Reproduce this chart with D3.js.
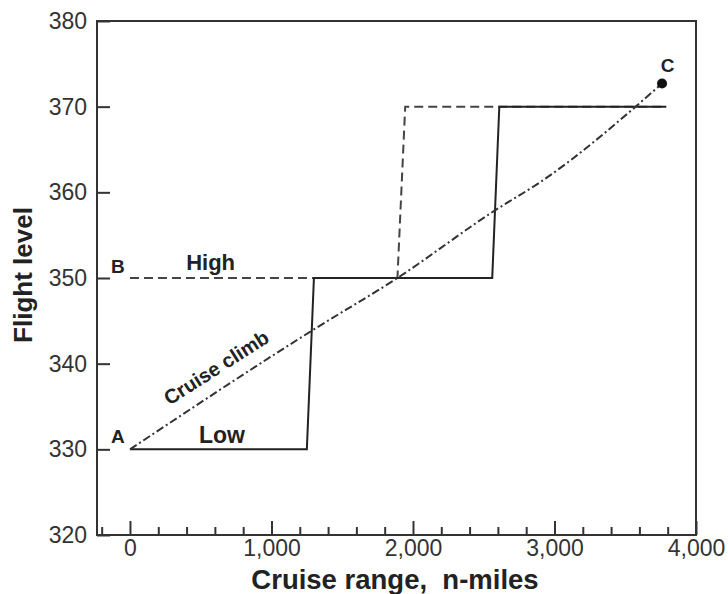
<!DOCTYPE html>
<html>
<head>
<meta charset="utf-8">
<script src="https://cdn.jsdelivr.net/npm/d3@7/dist/d3.min.js"></script>
<style>
  html, body { margin: 0; padding: 0; background: #fff; }
  svg { display: block; font-family: "Liberation Sans", Arial, Helvetica, sans-serif; }
</style>
</head>
<body>
<svg id="chart" width="728" height="594"></svg>
<script>
// ---- data ----
const yTicks = [320, 330, 340, 350, 360, 370, 380];
const xMajorTicks = [0, 1000, 2000, 3000, 4000];
const xMinorTicks = [-200, 200, 400, 600, 800, 1200, 1400, 1600, 1800, 2200, 2400, 2600, 2800, 3200, 3400, 3600, 3800];

const lowRange = [0, 1250, 1300, 2560, 2610, 3790];
const lowLevel = [330, 330, 350, 350, 370, 370];

const highRange = [0, 1890, 1945, 3790];
const highLevel = [350, 350, 370, 370];

const climbRange = [0, 1290, 1890, 2580, 2900, 3760];
const climbLevel = [330, 343.9, 350, 357.9, 361.2, 372.7];

const pointC = {range: 3760, level: 372.7};

// ---- layout ----
const W = 728, H = 594;
const m = {left: 97, right: 32, top: 21, bottom: 59};
const svg = d3.select("#chart");

const x = d3.scaleLinear().domain([-233, 4000]).range([m.left, W - m.right]);
const y = d3.scaleLinear().domain([320, 380]).range([H - m.bottom, m.top]);

const ink = "#222";

// axes (ticks inward)
const xMinor = svg.append("g").attr("transform", `translate(0,${H - m.bottom})`)
  .call(d3.axisBottom(x).tickValues(xMinorTicks).tickSize(-8).tickFormat(""));
const xMajor = svg.append("g").attr("transform", `translate(0,${H - m.bottom})`)
  .call(d3.axisBottom(x).tickValues(xMajorTicks).tickSize(-14).tickPadding(5).tickFormat(d3.format(",")));
const yAx = svg.append("g").attr("transform", `translate(${m.left},0)`)
  .call(d3.axisLeft(y).tickValues(yTicks).tickSize(-13).tickPadding(10).tickFormat(d3.format("d")));

[xMinor, xMajor, yAx].forEach(g => {
  g.select(".domain").remove();
  g.selectAll(".tick line").attr("stroke", "#333").attr("stroke-width", 2);
  g.selectAll(".tick text").attr("fill", "#333").style("font-size", "23px")
    .style("font-family", '"Liberation Sans", Arial, sans-serif');
});

// frame
svg.append("rect")
  .attr("x", m.left).attr("y", m.top)
  .attr("width", W - m.left - m.right).attr("height", H - m.top - m.bottom)
  .attr("fill", "none").attr("stroke", "#333").attr("stroke-width", 2);

// lines
const line = d3.line().x(d => x(d[0])).y(d => y(d[1]));
const zip = (a, b) => a.map((v, i) => [v, b[i]]);

svg.append("path").datum(zip(highRange, highLevel)).attr("d", line)
  .attr("fill", "none").attr("stroke", "#444").attr("stroke-width", 2)
  .attr("stroke-dasharray", "9,5");

svg.append("path").datum(zip(lowRange, lowLevel)).attr("d", line)
  .attr("fill", "none").attr("stroke", ink).attr("stroke-width", 2);

const climbLine = d3.line().x(d => x(d[0])).y(d => y(d[1])).curve(d3.curveMonotoneX);
svg.append("path").datum(zip(climbRange, climbLevel)).attr("d", climbLine)
  .attr("fill", "none").attr("stroke", "#333").attr("stroke-width", 2)
  .attr("stroke-dasharray", "8,3,2,3");

svg.append("circle").attr("cx", x(pointC.range)).attr("cy", y(pointC.level))
  .attr("r", 5).attr("fill", "#111");

// labels
function lab(txt, px, py, size) {
  return svg.append("text").attr("x", px).attr("y", py)
    .attr("text-anchor", "middle").attr("fill", ink)
    .style("font-weight", "bold").style("font-size", size + "px").text(txt);
}
lab("A", x(0) - 12, y(330) - 6.5, 19);
lab("Low", x(650), y(330) - 6.5, 23);
lab("B", x(0) - 12, y(350) - 5, 19);
lab("High", x(570), y(350) - 8.5, 22);
lab("C", x(3800), y(pointC.level) - 12, 19);

svg.append("text")
  .attr("transform", `translate(220,373.5) rotate(-32.6)`)
  .attr("text-anchor", "middle").attr("fill", ink)
  .style("font-weight", "bold").style("font-size", "20px")
  .text("Cruise climb");

// axis titles
svg.append("text").attr("x", (248 + 542) / 2).attr("y", 589)
  .attr("text-anchor", "middle").attr("fill", ink)
  .style("font-weight", "bold").style("font-size", "27.5px")
  .style("white-space", "pre").attr("xml:space", "preserve")
  .text("Cruise range,  n-miles");

svg.append("text").attr("transform", `translate(32,275) rotate(-90)`)
  .attr("text-anchor", "middle").attr("fill", ink)
  .style("font-weight", "bold").style("font-size", "26px")
  .text("Flight level");
</script>
</body>
</html>
